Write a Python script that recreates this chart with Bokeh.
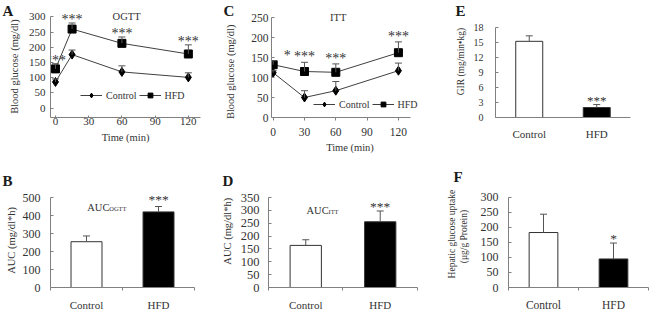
from bokeh.plotting import figure
from bokeh.layouts import row, column
from bokeh.models import (Range1d, FixedTicker, Label, Whisker, TeeHead,
                          ColumnDataSource, Legend, LegendItem)
from bokeh.embed import file_html
from bokeh.resources import INLINE

FONT = "Liberation Serif"
TXT = "#333333"
AXC = "#808080"
NB = "\u00a0"

# ---------------- data ----------------
# A: OGTT
ogtt_time = [0, 15, 60, 120]
ogtt_control = [86, 176, 119, 101]
ogtt_control_err = [10, 15, 20, 15]
ogtt_hfd = [129, 260, 213, 178]
ogtt_hfd_err = [17, 20, 21, 30]
ogtt_sig = ["***", "***", "***", "***"]
ogtt_yticks = [0, 50, 100, 150, 200, 250, 300]

# C: ITT
itt_time = [0, 30, 60, 120]
itt_control = [112, 50, 67, 117]
itt_control_err = [5, 17, 23, 19]
itt_hfd = [132, 115, 113, 162]
itt_hfd_err = [10, 23, 21, 27]
itt_sig = ["*", "***", "***", "***"]
itt_yticks = [0, 50, 100, 150, 200, 250]
time_ticks = [0, 30, 60, 90, 120]

groups = ["Control", "HFD"]
bar_colors = ["white", "black"]

# E: GIR
gir = [15.3, 2.0]
gir_err = [1.1, 0.6]
gir_sig = ["", "***"]
gir_yticks = [0, 3, 6, 9, 12, 15, 18]

# B: AUC OGTT
auc_ogtt = [255, 421]
auc_ogtt_err = [32, 30]
auc_ogtt_sig = ["", "***"]
auc_ogtt_yticks = [0, 100, 200, 300, 400, 500]

# D: AUC ITT
auc_itt = [164, 256]
auc_itt_err = [22, 42]
auc_itt_sig = ["", "***"]
auc_itt_yticks = [0, 50, 100, 150, 200, 250, 300, 350]

# F: hepatic glucose uptake
hgu = [183, 95]
hgu_err = [61, 53]
hgu_sig = ["", "*"]
hgu_yticks = [0, 50, 100, 150, 200, 250, 300]


def padded(text, lead=0, trail=0):
    return NB * lead + text + NB * trail


def make_fig(w, h, xr, yr, l, r, t, b, letter, l_off, l_stand):
    p = figure(width=w, height=h, x_range=xr, y_range=yr,
               toolbar_location=None, output_backend="svg",
               min_border_left=l, min_border_right=r,
               min_border_top=t, min_border_bottom=b)
    p.grid.visible = False
    p.outline_line_color = None
    p.background_fill_color = "white"
    p.border_fill_color = "white"
    p.title.text = letter
    p.title.align = "left"
    p.title.offset = l_off
    p.title.standoff = l_stand
    p.title.text_font = FONT
    p.title.text_font_style = "bold"
    p.title.text_font_size = "15px"
    p.title.text_color = "#1a1a1a"
    for ax in (p.xaxis[0], p.yaxis[0]):
        ax.axis_line_color = AXC
        ax.major_tick_line_color = AXC
        ax.minor_tick_line_color = None
        ax.major_label_text_font = FONT
        ax.major_label_text_font_size = "11px"
        ax.major_label_text_color = TXT
        ax.axis_label_text_font = FONT
        ax.axis_label_text_font_size = "10.5px"
        ax.axis_label_text_font_style = "normal"
        ax.axis_label_text_color = TXT
    p.yaxis.major_tick_in = 3
    p.yaxis.major_tick_out = 0
    p.xaxis.major_tick_in = 0
    p.xaxis.major_tick_out = 3
    p.xaxis.minor_tick_out = 0
    return p


def add_whisker(p, xs, vals, errs):
    src = ColumnDataSource(dict(x=xs, lo=vals,
                                hi=[v + e for v, e in zip(vals, errs)]))
    w = Whisker(source=src, base="x", lower="lo", upper="hi",
                line_color="#555555", line_width=1,
                upper_head=TeeHead(size=7, line_color="#555555", line_width=1),
                lower_head=None, level="glyph")
    p.add_layout(w)


def add_stars(p, xs, vals, errs, sig, pad, size="14px", dx=None):
    kw = {}
    if dx is not None:
        kw["x_offset"] = dx
    p.text(x=xs, y=[v + e + pad for v, e in zip(vals, errs)], text=sig,
           text_font={"value": FONT}, text_font_size={"value": size},
           text_color=TXT, text_align="center", text_baseline="middle", **kw)


def note(p, x, y, text, size="10.5px", align="center", baseline="middle",
         xo=0, yo=0):
    p.add_layout(Label(x=x, y=y, text=text, text_font=FONT,
                       text_font_size=size, text_color=TXT, x_offset=xo,
                       y_offset=yo, text_align=align, text_baseline=baseline))


def line_panel(w, h, xr, xb, yr, yb, l, r, t, b, letter, l_off, l_stand,
               time, ctl, ctl_e, hfd, hfd_e, sig, yticks, pad, leg_loc,
               xlabel, ylabel, star_dx=None):
    p = make_fig(w, h, xr, yr, l, r, t, b, letter, l_off, l_stand)
    p.xaxis.ticker = FixedTicker(ticks=time_ticks)
    p.yaxis.ticker = FixedTicker(ticks=yticks)
    p.xaxis.bounds = xb
    p.yaxis.bounds = yb
    p.xaxis.axis_label = xlabel
    p.yaxis.axis_label = ylabel
    add_whisker(p, time, ctl, ctl_e)
    add_whisker(p, time, hfd, hfd_e)
    l1 = p.line(time, ctl, line_color="#404040", line_width=1)
    s1 = p.scatter(time, ctl, marker="diamond", size=9, fill_color="black",
                   line_color="black")
    l2 = p.line(time, hfd, line_color="#404040", line_width=1)
    s2 = p.scatter(time, hfd, marker="square", size=8, fill_color="black",
                   line_color="black")
    add_stars(p, time, hfd, hfd_e, sig, pad, dx=star_dx)
    leg = Legend(items=[LegendItem(label="Control", renderers=[l1, s1]),
                        LegendItem(label="HFD", renderers=[l2, s2])],
                 orientation="horizontal", location=leg_loc,
                 border_line_color=None, background_fill_alpha=0,
                 padding=0, margin=0, spacing=2, glyph_width=22,
                 glyph_height=12, label_height=12, label_standoff=4,
                 label_text_font=FONT, label_text_font_size="10px",
                 label_text_color=TXT)
    p.add_layout(leg)
    return p


def bar_panel(w, h, xr_max, yr_max, l, r, t, b, letter, l_off, l_stand,
              vals, errs, sig, yticks, ylabel, mid_tick=True, bar_w=0.42,
              pad=0.0, star_size="13.5px"):
    xs = [i for i in range(len(groups))]
    lo, hi = -0.5, len(groups) - 0.5
    p = make_fig(w, h, Range1d(lo, xr_max), Range1d(yticks[0], yr_max),
                 l, r, t, b, letter, l_off, l_stand)
    minor = [i - 0.5 for i in range(len(groups) + 1)] if mid_tick else []
    p.xaxis.ticker = FixedTicker(ticks=xs, minor_ticks=minor)
    p.xaxis.major_label_overrides = {i: g for i, g in enumerate(groups)}
    p.xaxis.major_tick_out = 0
    if mid_tick:
        p.xaxis.minor_tick_out = 3
        p.xaxis.minor_tick_in = 0
        p.xaxis.minor_tick_line_color = AXC
    p.xaxis.bounds = (lo, hi)
    p.yaxis.bounds = (yticks[0], yticks[-1])
    p.yaxis.ticker = FixedTicker(ticks=yticks)
    p.yaxis.axis_label = ylabel
    add_whisker(p, xs, vals, errs)
    p.vbar(x=xs, top=vals, width=bar_w, fill_color=bar_colors,
           line_color="#333333", line_width=1)
    add_stars(p, xs, vals, errs, sig, pad, size=star_size)
    return p


# ---------------- A ----------------
pA = line_panel(210, 155, Range1d(-4.5, 138.2), (-4.5, 131),
                Range1d(-31, 321.1), (-31, 300), 50, 2, 10, 28, "A", -48, -16,
                ogtt_time, ogtt_control, ogtt_control_err, ogtt_hfd,
                ogtt_hfd_err, ogtt_sig, ogtt_yticks, 12, (30, 16),
                padded("Time (min)", 0, 3), padded("Blood glucose (mg/dl)", 0, 2))
pA.yaxis.major_label_standoff = 5
pA.yaxis.axis_label_standoff = 6
pA.xaxis.major_tick_out = 0
pA.xaxis.major_tick_in = 2
pA.xaxis.major_label_standoff = 0
pA.xaxis.axis_label_standoff = 4
note(pA, 64.2, 300, "OGTT")

# ---------------- C ----------------
pC = line_panel(220, 155, Range1d(-1.6, 148.8), (-1.6, 131.5),
                Range1d(0, 267.5), (0, 250), 61, 2, 10, 38, "C", -48, -16,
                itt_time, itt_control, itt_control_err, itt_hfd, itt_hfd_err,
                itt_sig, itt_yticks, 14, (42, 7),
                "Time (min)", padded("Blood glucose (mg/dl)", 0, 6),
                star_dx=[14, 0, 0, 0])
pC.yaxis.major_label_text_font_size = "11.5px"
pC.xaxis.major_label_text_font_size = "11.5px"
pC.yaxis.major_label_standoff = 3
pC.yaxis.axis_label_standoff = 12
pC.xaxis.major_label_standoff = 7
pC.xaxis.axis_label_standoff = 3
note(pC, 62.3, 250, "ITT")

# ---------------- E ----------------
pE = bar_panel(219, 155, 1.752, 21.49, 65, 2, 10, 28, "E", -40, -16,
               gir, gir_err, gir_sig, gir_yticks,
               padded("GIR (mg/min\u2022kg)", 2, 0),
               mid_tick=False, bar_w=0.4, pad=0.9, star_size="13px")
pE.yaxis.axis_label_text_font_size = "9.5px"
pE.yaxis.major_label_text_font_size = "10px"
pE.yaxis.major_label_standoff = 12
pE.yaxis.axis_label_standoff = 5
pE.xaxis.major_label_standoff = 10

# ---------------- B ----------------
pB = bar_panel(210, 158, 1.694, 568, 50, 2, 30, 22, "B", -48, -6,
               auc_ogtt, auc_ogtt_err, auc_ogtt_sig, auc_ogtt_yticks,
               padded("AUC (mg/dl*h)", 0, 3), bar_w=0.43, pad=38)
pB.yaxis.major_label_text_font_size = "12px"
pB.yaxis.major_label_standoff = 10
pB.yaxis.axis_label_standoff = 3
pB.xaxis.major_label_standoff = 8
note(pB, 0.01, 446.4, "AUC", align="left", baseline="alphabetic")
note(pB, 0.01, 446.4, "OGTT", size="6.5px", align="left",
     baseline="alphabetic", xo=22, yo=-1)

# ---------------- D ----------------
pD = bar_panel(220, 158, 1.648, 397.3, 58, 2, 30, 21, "D", -46, -6,
               auc_itt, auc_itt_err, auc_itt_sig, auc_itt_yticks,
               padded("AUC (mg/dl*h)", 4, 0), bar_w=0.42, pad=17.5)
pD.yaxis.major_label_text_font_size = "12.5px"
pD.yaxis.major_label_standoff = 9
pD.yaxis.axis_label_standoff = 5
pD.xaxis.major_label_standoff = 8
note(pD, 0.01, 301.6, "AUC", align="left", baseline="alphabetic")
note(pD, 0.01, 301.6, "ITT", size="6.5px", align="left",
     baseline="alphabetic", xo=22, yo=-1)

# ---------------- F ----------------
pF = bar_panel(219, 158, 1.5, 339.5, 78, 1, 25, 21, "F", -55, 2,
               hgu, hgu_err, hgu_sig, hgu_yticks,
               padded("Hepatic glucose uptake", 2, 0) + "\n(\u03bcg/g Protein)",
               bar_w=0.41, pad=16)
pF.yaxis.axis_label_text_font_size = "9.5px"
pF.yaxis.major_label_text_font_size = "12px"
pF.xaxis.major_label_text_font_size = "11.5px"
pF.yaxis.major_label_standoff = 10
pF.yaxis.axis_label_standoff = 9
pF.xaxis.major_label_standoff = 8

layout = column(row(pA, pC, pE), row(pB, pD, pF))
open("out.html", "w").write(file_html(layout, INLINE))
